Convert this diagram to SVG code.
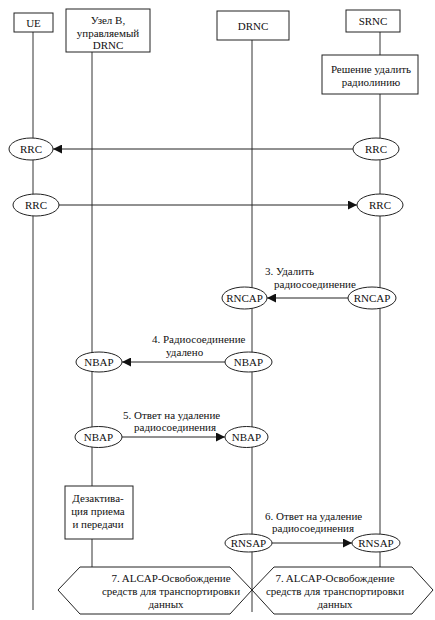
<svg xmlns="http://www.w3.org/2000/svg" width="435" height="620" viewBox="0 0 435 620">
<defs>
<marker id="ah" viewBox="0 0 10 10" refX="10" refY="5" markerWidth="9" markerHeight="9" markerUnits="userSpaceOnUse" orient="auto">
<path d="M0,0 L10,5 L0,10 z" fill="#111"/>
</marker>
</defs>
<style>
text{font-family:"Liberation Serif","Times New Roman",serif;font-size:11px;fill:#111}
.c{text-anchor:middle}
.box{fill:#fff;stroke:#222;stroke-width:1}
.ell{fill:#fff;stroke:#222;stroke-width:1}
.life{stroke:#333;stroke-width:1;fill:none}
.msg{stroke:#222;stroke-width:1;fill:none;marker-end:url(#ah)}
.hex{fill:#fff;stroke:#222;stroke-width:1}
</style>
<rect width="435" height="620" fill="#fff"/>
<g id="lifelines">
<line class="life" x1="33" y1="32" x2="33" y2="610"/>
<line class="life" x1="92" y1="52" x2="92" y2="486"/>
<line class="life" x1="92" y1="539" x2="92" y2="567"/>
<line class="life" x1="252" y1="40" x2="252" y2="612"/>
<line class="life" x1="380" y1="32" x2="380" y2="55"/>
<line class="life" x1="380" y1="94" x2="380" y2="567"/>
</g>
<g id="connectors">
<line class="msg" x1="353" y1="149" x2="53" y2="149"/>
<line class="msg" x1="59" y1="205" x2="357" y2="205"/>
<line class="msg" x1="348" y1="298" x2="267" y2="298"/>
<line class="msg" x1="225" y1="362" x2="122" y2="362"/>
<line class="msg" x1="122" y1="437" x2="225" y2="437"/>
<line class="msg" x1="272" y1="543" x2="352" y2="543"/>
<text x="265" y="275">3. Удалить</text>
<text x="274" y="288">радиосоединение</text>
<text x="152" y="343">4. Радиосоединение</text>
<text x="166" y="356">удалено</text>
<text x="123" y="419">5. Ответ на удаление</text>
<text x="134" y="431">радиосоединения</text>
<text x="265" y="520">6. Ответ на удаление</text>
<text x="272" y="532">радиосоединения</text>
</g>
<g id="ue">
<rect class="box" x="14" y="13" width="39" height="19"/>
<text class="c" x="33.5" y="26.5">UE</text>
</g>
<g id="nodeb">
<rect class="box" x="66" y="9" width="84" height="43"/>
<text class="c" x="108" y="24">Узел В,</text>
<text class="c" x="108" y="36.5">управляемый</text>
<text class="c" x="108" y="49">DRNC</text>
</g>
<g id="drnc">
<rect class="box" x="217" y="11" width="72" height="29"/>
<text class="c" x="253" y="30">DRNC</text>
</g>
<g id="srnc">
<rect class="box" x="346" y="10" width="54" height="22"/>
<text class="c" x="373" y="25">SRNC</text>
</g>
<g id="decision">
<rect class="box" x="322" y="55" width="96" height="39"/>
<text class="c" x="371" y="73">Решение удалить</text>
<text class="c" x="371" y="86">радиолинию</text>
</g>
<g id="rrc1-ue">
<ellipse class="ell" cx="31" cy="149" rx="22" ry="11"/>
<text class="c" x="31" y="153">RRC</text>
</g>
<g id="rrc1-srnc">
<ellipse class="ell" cx="376" cy="149" rx="23" ry="11"/>
<text class="c" x="376" y="153">RRC</text>
</g>
<g id="rrc2-ue">
<ellipse class="ell" cx="36" cy="205" rx="23" ry="11"/>
<text class="c" x="36" y="209">RRC</text>
</g>
<g id="rrc2-srnc">
<ellipse class="ell" cx="380" cy="205" rx="23" ry="11"/>
<text class="c" x="380" y="209">RRC</text>
</g>
<g id="rncap-drnc">
<ellipse class="ell" cx="244.5" cy="298" rx="22.5" ry="11"/>
<text class="c" x="244.5" y="302">RNCAP</text>
</g>
<g id="rncap-srnc">
<ellipse class="ell" cx="372" cy="298" rx="24" ry="11"/>
<text class="c" x="372" y="302">RNCAP</text>
</g>
<g id="nbap4-nodeb">
<ellipse class="ell" cx="99" cy="362" rx="23" ry="10"/>
<text class="c" x="99" y="366">NBAP</text>
</g>
<g id="nbap4-drnc">
<ellipse class="ell" cx="248.5" cy="362" rx="23.5" ry="10"/>
<text class="c" x="248.5" y="366">NBAP</text>
</g>
<g id="nbap5-nodeb">
<ellipse class="ell" cx="98.5" cy="437" rx="23.5" ry="10.5"/>
<text class="c" x="98.5" y="441">NBAP</text>
</g>
<g id="nbap5-drnc">
<ellipse class="ell" cx="246.5" cy="437" rx="21.5" ry="10.5"/>
<text class="c" x="246.5" y="441">NBAP</text>
</g>
<g id="deactivation">
<rect class="box" x="65" y="486" width="68" height="53"/>
<text class="c" x="98" y="502">Дезактива-</text>
<text class="c" x="98" y="515">ция приема</text>
<text class="c" x="98" y="528">и передачи</text>
</g>
<g id="rnsap-drnc">
<ellipse class="ell" cx="248.5" cy="543" rx="23.5" ry="9"/>
<text class="c" x="248.5" y="547">RNSAP</text>
</g>
<g id="rnsap-srnc">
<ellipse class="ell" cx="376" cy="543" rx="24" ry="9"/>
<text class="c" x="376" y="547">RNSAP</text>
</g>
<g id="alcap-left">
<polygon class="hex" points="58,590 80,567 230,567 252,590 230,614 80,614"/>
<text class="c" x="171" y="582">7. ALCAP-Освобождение</text>
<text class="c" x="171" y="595">средств для транспортировки</text>
<text class="c" x="166" y="608">данных</text>
</g>
<g id="alcap-right">
<polygon class="hex" points="252,590 274,567 412,567 433,590 412,614 274,614"/>
<text class="c" x="335" y="582">7. ALCAP-Освобождение</text>
<text class="c" x="335" y="595">средств для транспортировки</text>
<text class="c" x="335" y="608">данных</text>
</g>
</svg>
